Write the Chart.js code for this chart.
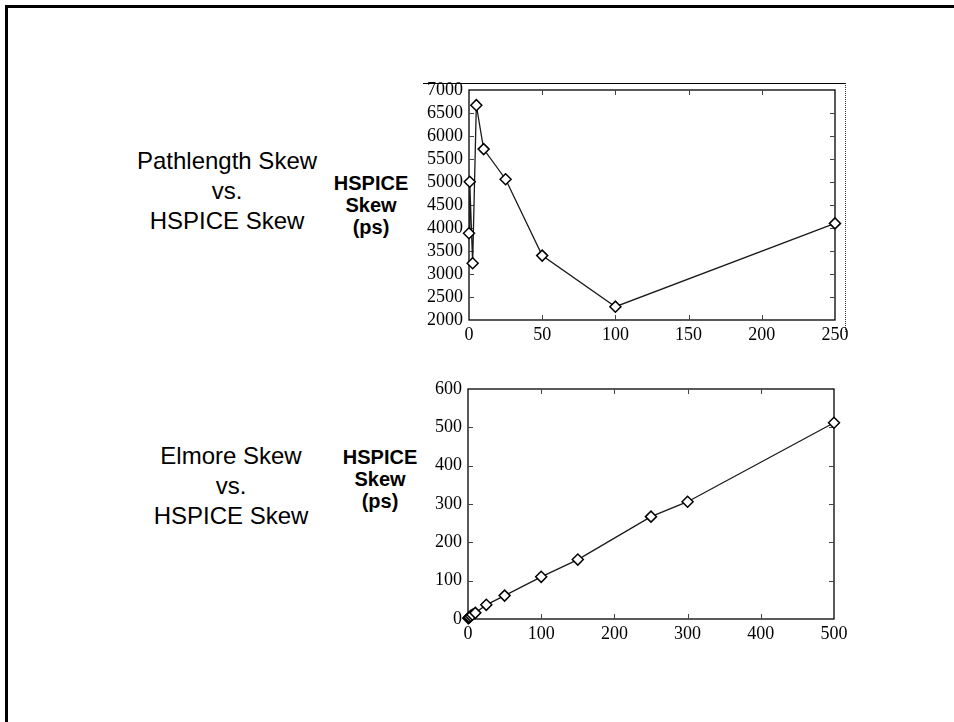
<!DOCTYPE html>
<html><head><meta charset="utf-8">
<script src="https://cdn.jsdelivr.net/npm/chart.js@4"></script>
<style>
html,body{margin:0;padding:0;background:#fff;}
body{width:954px;height:722px;position:relative;overflow:hidden;}
.frame{position:absolute;left:5px;top:5px;width:970px;height:740px;border-top:3px solid #000;border-left:3px solid #000;}
.lbl{position:absolute;font-family:"Liberation Sans",Arial,sans-serif;font-size:24px;color:#000;text-align:center;line-height:30px;transform:translateX(-50%);white-space:nowrap;}
.bold{font-weight:bold;font-size:20px;line-height:22px;}
.cv{position:absolute;}
.edge{position:absolute;left:423px;top:83px;width:422px;height:248px;border-top:1.5px solid #000;border-right:1px dotted #333;}
</style></head>
<body>
<div class="frame"></div>
<div class="lbl" style="left:227px;top:146px;">Pathlength Skew<br>vs.<br>HSPICE Skew</div>
<div class="lbl bold" style="left:371px;top:172px;">HSPICE<br>Skew<br>(ps)</div>
<div class="lbl" style="left:231px;top:441px;">Elmore Skew<br>vs.<br>HSPICE Skew</div>
<div class="lbl bold" style="left:380px;top:446px;">HSPICE<br>Skew<br>(ps)</div>
<div class="edge"></div>
<canvas id="c1" class="cv" width="460" height="280" style="left:400px;top:70px;width:460px;height:280px;"></canvas>
<canvas id="c2" class="cv" width="460" height="280" style="left:400px;top:370px;width:460px;height:280px;"></canvas>
<script>
// Top chart: Pathlength skew vs HSPICE skew
const pathSkew = [0, 0.5, 2.5, 5, 10, 25, 50, 100, 250];
const pathHspiceSkew = [3885, 5005, 3235, 6670, 5715, 5060, 3400, 2290, 4100];
const pathXRange = [0, 250, 50];
const pathYRange = [2000, 7000, 500];

// Bottom chart: Elmore skew vs HSPICE skew
const elmoreSkew = [0.5, 1, 2, 4, 6, 10, 25, 50, 100, 150, 250, 300, 500];
const elmoreHspiceSkew = [2, 3, 5, 8, 11, 16, 37, 61, 110, 155, 267, 306, 512];
const elmoreXRange = [0, 500, 100];
const elmoreYRange = [0, 600, 100];

const tickFont = {family: '"Liberation Serif", "Times New Roman", serif', size: 18};

const innerTicks = {
  id: 'innerTicks',
  beforeDatasetsDraw(chart) {
    const {ctx, chartArea: a, scales: {x, y}} = chart;
    ctx.save();
    ctx.strokeStyle = '#000';
    ctx.lineWidth = 1.3;
    ctx.strokeRect(a.left, a.top, a.right - a.left, a.bottom - a.top);
    ctx.strokeStyle = '#444';
    ctx.lineWidth = 1;
    const L = 5;
    ctx.beginPath();
    x.ticks.forEach(t => {
      if (t.value <= x.min || t.value >= x.max) return;
      const p = Math.round(x.getPixelForValue(t.value)) + 0.5;
      ctx.moveTo(p, a.bottom); ctx.lineTo(p, a.bottom - L);
      ctx.moveTo(p, a.top); ctx.lineTo(p, a.top + L);
    });
    y.ticks.forEach(t => {
      if (t.value <= y.min || t.value >= y.max) return;
      const p = Math.round(y.getPixelForValue(t.value)) + 0.5;
      ctx.moveTo(a.left, p); ctx.lineTo(a.left + L, p);
      ctx.moveTo(a.right, p); ctx.lineTo(a.right - L, p);
    });
    ctx.stroke();
    ctx.restore();
  }
};

function makeChart(id, xs, ys, xr, yr, yWidth, xHeight, pad) {
  return new Chart(document.getElementById(id), {
    type: 'scatter',
    data: {
      datasets: [{
        data: xs.map((v, i) => ({x: v, y: ys[i]})),
        showLine: true,
        borderColor: '#1a1a1a',
        borderWidth: 1.3,
        tension: 0,
        pointStyle: 'rectRot',
        pointRadius: 5.5,
        pointBorderWidth: 1.5,
        pointBorderColor: '#000',
        pointBackgroundColor: '#fff',
        clip: false
      }]
    },
    options: {
      responsive: false,
      animation: false,
      events: [],
      layout: {padding: pad},
      plugins: {legend: {display: false}, tooltip: {enabled: false}},
      scales: {
        x: {
          type: 'linear', min: xr[0], max: xr[1],
          grid: {display: false, drawTicks: false},
          border: {display: false},
          ticks: {stepSize: xr[2], font: tickFont, color: '#000', padding: 4, maxRotation: 0, autoSkip: false,
                  callback: v => String(v)},
          afterFit(s) { s.height = xHeight; }
        },
        y: {
          type: 'linear', min: yr[0], max: yr[1],
          grid: {display: false, drawTicks: false},
          border: {display: false},
          ticks: {stepSize: yr[2], font: tickFont, color: '#000', padding: 6, autoSkip: false,
                  callback: v => String(v)},
          afterFit(s) { s.width = yWidth; }
        }
      }
    },
    plugins: [innerTicks]
  });
}

makeChart('c1', pathSkew, pathHspiceSkew, pathXRange, pathYRange, 69, 30, {top: 20, right: 25, left: 0, bottom: 0});
makeChart('c2', elmoreSkew, elmoreHspiceSkew, elmoreXRange, elmoreYRange, 68, 31, {top: 19, right: 26, left: 0, bottom: 0});
</script>
</body></html>
